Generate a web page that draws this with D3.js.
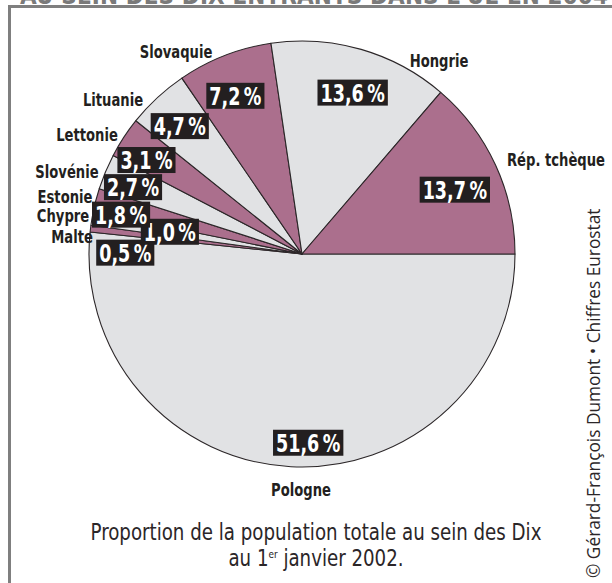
<!DOCTYPE html>
<html>
<head>
<meta charset="utf-8">
<script src="https://cdn.jsdelivr.net/npm/d3@7"></script>
<style>
  body { margin: 0; background: #fff; }
  svg { display: block; }
</style>
</head>
<body>
<svg></svg>
<script>
// dimensions de la page
const width = 612;
const height = 583;

// données : ordre des parts dans le sens horaire à partir de l'est
const pays = ["Pologne", "Malte", "Chypre", "Estonie", "Slovénie", "Lettonie", "Lituanie", "Slovaquie", "Hongrie", "Rép. tchèque"];
const parts = [51.6, 0.5, 1.0, 1.8, 2.7, 3.1, 4.7, 7.2, 13.6, 13.7];
const etiquettes = ["51,6\u202F%", "0,5\u202F%", "1,0\u202F%", "1,8\u202F%", "2,7\u202F%", "3,1\u202F%", "4,7\u202F%", "7,2\u202F%", "13,6\u202F%", "13,7\u202F%"];

// mise en page des étiquettes (rayon, décalage x, décalage y)
const posPct = {
    "Pologne": [189, 16, 0], "Malte": [179, 1, 20], "Chypre": [134, 0, 0],
    "Estonie": [188, 1, 8], "Slovénie": [181, -2, 3], "Lettonie": [181, -4, 5],
    "Lituanie": [177, -2, 2], "Slovaquie": [172, -4, 2], "Hongrie": [168, 4, 0],
    "Rép. tchèque": [166, 2, 5]
};
const posNom = {
    "Slovaquie": [176, 52], "Hongrie": [439, 61], "Lituanie": [113, 100],
    "Lettonie": [87, 135], "Slovénie": [67, 172], "Estonie": [65, 197],
    "Chypre": [63, 216], "Malte": [72, 237], "Rép. tchèque": [556, 160],
    "Pologne": [301, 490]
};

const condense = "'DejaVu Sans Condensed', 'Liberation Sans Narrow', sans-serif";

let svg = d3.select("svg")
    .attr("width", width)
    .attr("height", height);

// cadre et titre coupé en haut
svg.append("text")
    .attr("x", 20)
    .attr("y", 4)
    .attr("textLength", 588)
    .style("font-family", condense)
    .style("font-weight", "bold")
    .style("font-size", "24px")
    .style("fill", "#7a7a7a")
    .text("AU SEIN DES DIX ENTRANTS DANS L'UE EN 2004");

svg.append("path")
    .attr("d", `M9.5,${height} V6.5 H${width}`)
    .attr("fill", "none")
    .attr("stroke", "#7f7f7f")
    .attr("stroke-width", 3);

// camembert
const cx = 302, cy = 254, rayon = 213;

const pie = d3.pie()
    .sort(null)
    .value(d => d)
    .startAngle(Math.PI / 2)
    .endAngle(Math.PI / 2 + 2 * Math.PI);

const arcs = pie(parts);

const arc = d3.arc()
    .innerRadius(0)
    .outerRadius(rayon);

let g = svg.append("g")
    .attr("transform", `translate(${cx}, ${cy})`);

g.selectAll("path.part")
    .data(arcs)
    .join("path")
    .attr("class", "part")
    .attr("d", arc)
    .style("fill", (d, i) => i % 2 == 0 ? "#e1e2e4" : "#ab6f8d")
    .style("stroke", "#2b2628")
    .style("stroke-width", 1.1)
    .style("stroke-linejoin", "round");

// étiquettes des pourcentages
const sxPct = 0.78;
arcs.forEach((d, i) => {
    const p = posPct[pays[i]];
    const c = d3.arc().innerRadius(p[0]).outerRadius(p[0]).centroid(d);
    let lab = g.append("g")
        .attr("transform", `translate(${c[0] + p[1]}, ${c[1] + p[2]})`);
    let rect = lab.append("rect").style("fill", "#231f20");
    let t = lab.append("text")
        .attr("text-anchor", "middle")
        .attr("y", 9)
        .attr("transform", `scale(${sxPct}, 1)`)
        .style("font-family", condense)
        .style("font-weight", "bold")
        .style("font-size", "25px")
        .style("fill", "#fff")
        .text(etiquettes[i]);
    const b = t.node().getBBox();
    rect.attr("x", b.x * sxPct - 3)
        .attr("y", -13)
        .attr("width", b.width * sxPct + 6)
        .attr("height", 26);
});

// noms des pays
svg.selectAll("g.nom")
    .data(pays)
    .join("g")
    .attr("class", "nom")
    .attr("transform", d => `translate(${posNom[d][0]}, ${posNom[d][1] + 6})`)
    .append("text")
    .attr("text-anchor", "middle")
    .attr("transform", "scale(0.86, 1)")
    .style("font-family", condense)
    .style("font-weight", "bold")
    .style("font-size", "17px")
    .style("fill", "#231f20")
    .text(d => d);

// légende
let legende = svg.append("g")
    .attr("transform", "translate(316, 0) scale(0.9, 1)")
    .append("text")
    .attr("text-anchor", "middle")
    .style("font-family", condense)
    .style("font-size", "22.5px")
    .style("fill", "#2b2628");
legende.append("tspan")
    .attr("x", 0).attr("y", 540)
    .text("Proportion de la population totale au sein des Dix");
let l2 = legende.append("tspan")
    .attr("x", 0).attr("y", 566)
    .text("au 1");
l2.append("tspan").attr("dy", -8).style("font-size", "11px").text("er");
l2.append("tspan").attr("dy", 8).text(" janvier 2002.");

// crédit vertical
svg.append("text")
    .attr("transform", "translate(600, 578) rotate(-90)")
    .style("font-family", "'Open Sans', 'Noto Sans', sans-serif")
    .style("font-size", "17.3px")
    .style("fill", "#2b2628")
    .text("© Gérard-François Dumont • Chiffres Eurostat");
</script>
</body>
</html>
